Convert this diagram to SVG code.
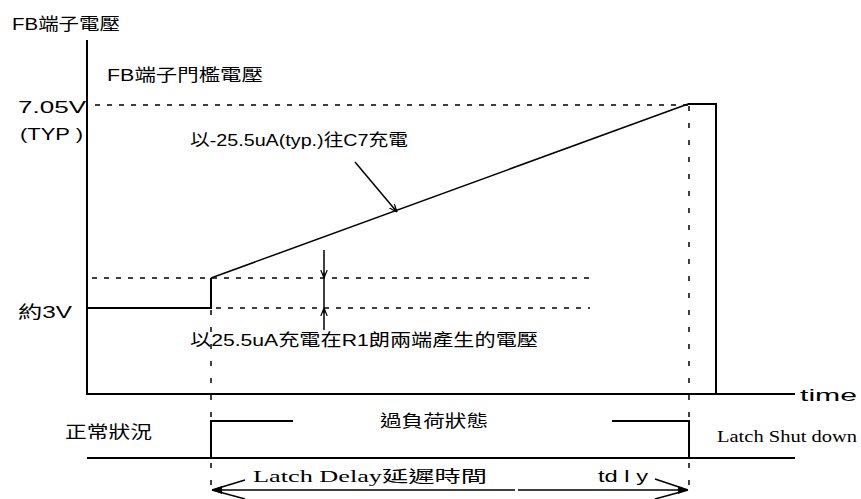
<svg xmlns="http://www.w3.org/2000/svg" width="861" height="499" viewBox="0 0 861 499">
<defs>
<style>
.s{fill:none;stroke:#000;stroke-width:2}
.t{fill:none;stroke:#000;stroke-width:1.5}
.dh{fill:none;stroke:#000;stroke-width:1.5;stroke-dasharray:5 7}
.dv{fill:none;stroke:#000;stroke-width:1.5;stroke-dasharray:5 12}
.a{font-family:"Liberation Sans","Noto Sans CJK TC",sans-serif;font-size:17px;fill:#000}
.r{font-family:"Liberation Serif","Noto Sans CJK TC",serif;font-size:16px;fill:#000}
</style>
<marker id="ah" viewBox="0 0 10 10" refX="10" refY="5" markerWidth="8" markerHeight="8" orient="auto-start-reverse" markerUnits="userSpaceOnUse">
<path d="M0,1 L10,5 L0,9 M10,5 L3,5" fill="none" stroke="#000" stroke-width="1.5"/>
</marker>
</defs>
<rect width="861" height="499" fill="#fff"/>
<g id="axes">
<path class="s" d="M87,40 V394 H795"/>
<path class="s" d="M87,458 H795"/>
</g>
<g id="guides">
<path class="dh" d="M95,105 H688"/>
<path class="dh" d="M92,278 H590"/>
<path class="dh" d="M216,308 H590"/>
<path class="dv" d="M211,310 V486"/>
<path class="dv" d="M689,106 V486"/>
</g>
<g id="waveform">
<path class="s" d="M87,308 H211 V278"/>
<path class="t" d="M211,278 L688,104"/>
<path class="s" d="M688,104 H716 V394"/>
</g>
<g id="state">
<path class="s" d="M211,458 V421 H293"/>
<path class="s" d="M612,421 H689 V458"/>
</g>
<g id="connectors">
<path class="t" d="M355,162 L397,212" marker-end="url(#ah)"/>
<path class="t" d="M324,250 V278" marker-end="url(#ah)"/>
<path class="t" d="M324,330 V308" marker-end="url(#ah)"/>
<path class="t" d="M324,278 V308"/>
<path class="t" d="M212,490 H515" />
<path class="t" d="M518,490 H688" />
<path class="t" d="M212,490 L245,480 M212,490 L245,499 M688,490 L655,479 M688,490 L655,499"/>
<path d="M212,490 L222,486 L222,494 Z M688,490 L678,486 L678,494 Z" fill="#000"/>
</g>
<g id="labels">
<text class="a" x="12" y="30" textLength="108" lengthAdjust="spacingAndGlyphs">FB端子電壓</text>
<text class="a" x="107" y="81" textLength="156" lengthAdjust="spacingAndGlyphs">FB端子門檻電壓</text>
<text class="a" x="18" y="113" font-size="19" textLength="68" lengthAdjust="spacingAndGlyphs">7.05V</text>
<text class="a" x="20" y="140" font-size="19" textLength="63" lengthAdjust="spacingAndGlyphs">(TYP )</text>
<text class="a" x="190" y="146" textLength="218" lengthAdjust="spacingAndGlyphs">以-25.5uA(typ.)往C7充電</text>
<text class="a" x="18" y="318" font-size="19" textLength="54" lengthAdjust="spacingAndGlyphs">約3V</text>
<text class="a" x="190" y="346" textLength="348" lengthAdjust="spacingAndGlyphs">以25.5uA充電在R1朗兩端產生的電壓</text>
<text class="a" x="800" y="401" font-size="20" textLength="57" lengthAdjust="spacingAndGlyphs">time</text>
<text class="a" x="65" y="438" textLength="87" lengthAdjust="spacingAndGlyphs">正常狀況</text>
<text class="a" x="380" y="427" textLength="108" lengthAdjust="spacingAndGlyphs">過負荷狀態</text>
<text class="r" x="717" y="442" font-size="14" textLength="140" lengthAdjust="spacingAndGlyphs">Latch Shut down</text>
<text class="r" x="253" y="482" textLength="234" lengthAdjust="spacingAndGlyphs">Latch Delay延遲時間</text>
<text class="a" x="598" y="482" font-size="19" textLength="50" lengthAdjust="spacingAndGlyphs">td l y</text>
</g>
</svg>
